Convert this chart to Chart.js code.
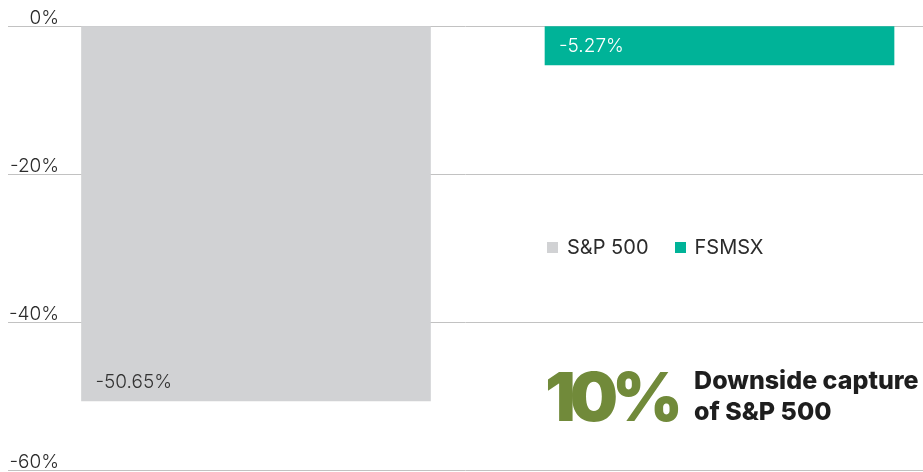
<!DOCTYPE html>
<html>
<head>
<meta charset="utf-8">
<script src="https://cdn.jsdelivr.net/npm/chart.js@4/dist/chart.umd.min.js"></script>
<style>
    html, body { margin: 0; padding: 0; background: #fff; overflow: hidden; }
    #wrap { position: relative; width: 923px; height: 472px; }
    #legend { position: absolute; left: 547px; top: 235px; display: flex; gap: 26px;
        font-family: Inter, "Noto Sans", sans-serif; font-size: 20px; font-weight: 400; color: #2b2b2b; }
    #legend .item { display: flex; align-items: center; }
    #legend .box { width: 11px; height: 11px; margin-right: 9px; }
    #callout { position: absolute; left: 545px; top: 362px; display: flex; align-items: center;
        font-family: Inter, "Noto Sans", sans-serif; }
    #callout .big { font-size: 68px; font-weight: 900; color: #718a3a; letter-spacing: -6px; line-height: 1; }
    #callout .txt { margin-left: 17px; font-size: 25px; font-weight: 800; color: #1e1e1e; line-height: 31px; }
</style>
</head>
<body>
<div id="wrap">
    <canvas id="downsideChart"></canvas>
    <div id="legend"></div>
    <div id="callout"><span class="big">10%</span><span class="txt">Downside capture<br>of S&amp;P 500</span></div>
</div>
<script>
const categories = ['S&P 500', 'FSMSX'];
const values = [-50.65, -5.27];
const barColors = ['#d1d2d4', '#00b398'];
const labelColors = ['#333333', '#ffffff'];
const yTicks = [0, -20, -40, -60];

const valueLabels = {
    id: 'valueLabels',
    afterDatasetsDraw(chart) {
        const ctx = chart.ctx;
        ctx.save();
        ctx.font = '300 19px Inter, "Noto Sans", sans-serif';
        ctx.textAlign = 'left';
        ctx.textBaseline = 'middle';
        chart.data.datasets.forEach((ds, i) => {
            const bar = chart.getDatasetMeta(i).data[0];
            if (!bar) return;
            ctx.fillStyle = labelColors[i];
            ctx.fillText(values[i].toFixed(2) + '%', bar.x - bar.width / 2 + 14, bar.y - 19);
        });
        ctx.restore();
    }
};

const chart = new Chart(document.getElementById('downsideChart'), {
    type: 'bar',
    plugins: [valueLabels],
    data: {
        datasets: categories.map((name, i) => ({
            label: name,
            data: [{ x: i, y: values[i] }],
            backgroundColor: barColors[i],
            barThickness: 349,
            grouped: false
        }))
    },
    options: {
        responsive: true,
        maintainAspectRatio: false,
        animation: false,
        layout: { padding: { left: 6, right: 0, top: 26, bottom: 2 } },
        scales: {
            x: {
                type: 'linear',
                display: false,
                offset: false,
                min: -0.535,
                max: 1.439
            },
            y: {
                min: -60,
                max: 0,
                afterBuildTicks(scale) {
                    scale.ticks = yTicks.map(v => ({ value: v }));
                },
                afterFit(scale) {
                    scale.paddingTop = 0;
                    scale.paddingBottom = 0;
                },
                border: { display: false },
                grid: { color: '#c2c2c2', lineWidth: 1, drawTicks: false },
                ticks: {
                    mirror: true,
                    crossAlign: 'far',
                    padding: 1,
                    labelOffset: -8,
                    color: '#2b2b2b',
                    font: { family: 'Inter, "Noto Sans", sans-serif', size: 19, weight: 300 },
                    callback: v => v + '%'
                }
            }
        },
        plugins: {
            legend: { display: false },
            tooltip: { enabled: false }
        }
    }
});

$legend = document.getElementById('legend');
chart.data.datasets.forEach(ds => {
    const item = document.createElement('span');
    item.className = 'item';
    item.innerHTML = '<span class="box" style="background:' + ds.backgroundColor + '"></span>' + ds.label;
    $legend.appendChild(item);
});
</script>
</body>
</html>
